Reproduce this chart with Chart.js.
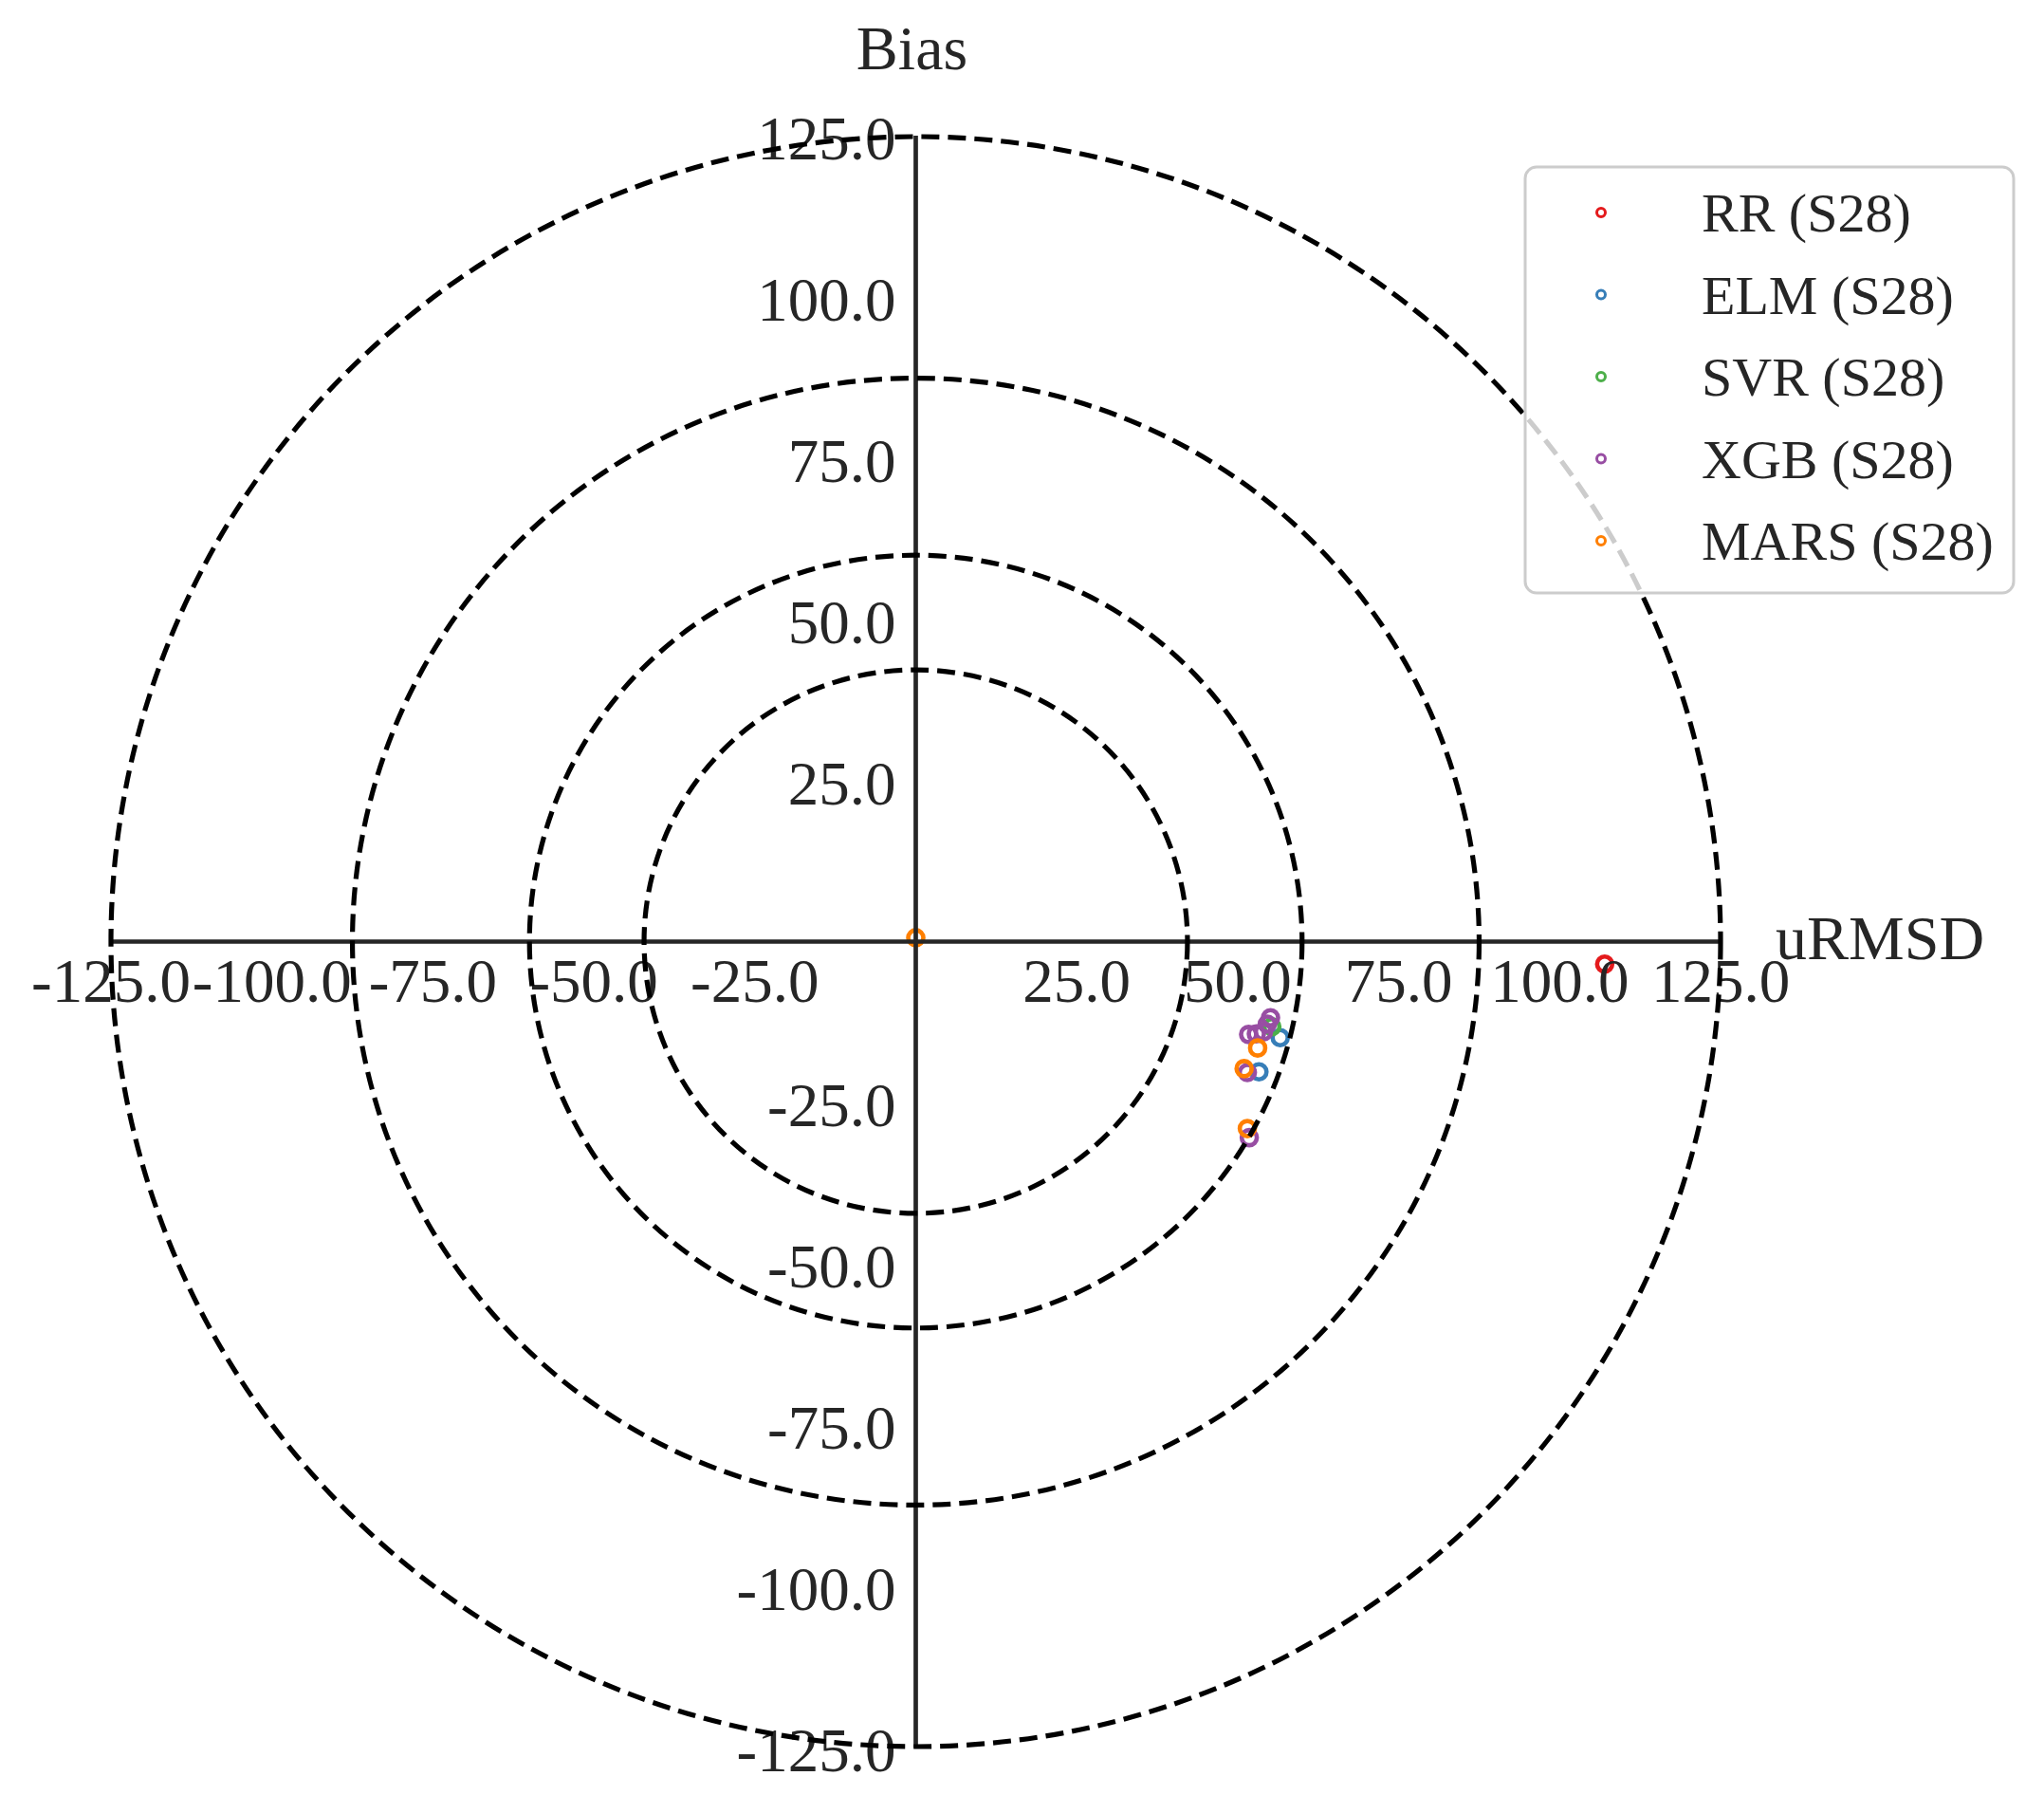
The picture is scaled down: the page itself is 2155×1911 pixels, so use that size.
<!DOCTYPE html>
<html>
<head>
<meta charset="utf-8">
<script src="https://cdn.jsdelivr.net/npm/chart.js@4/dist/chart.umd.min.js"></script>
<style>
html,body{margin:0;padding:0;background:#fff;}
canvas{display:block;}
</style>
</head>
<body>
<canvas id="c" width="2155" height="1911"></canvas>
<script>
// ---- data ----
const categories = ['RR (S28)', 'ELM (S28)', 'SVR (S28)', 'XGB (S28)', 'MARS (S28)'];
const colors = ['#e41a1c', '#377eb8', '#4daf4a', '#984ea3', '#ff7f00'];
const rrX = [107.0];              const rrY = [-3.5];
const elmX = [56.6, 53.3];        const elmY = [-14.9, -20.2];
const svrX = [55.3];              const svrY = [-13.2];
const xgbX = [55.1, 54.6, 51.7, 52.9, 54.0, 51.5, 51.8];
const xgbY = [-11.8, -12.8, -14.4, -14.3, -14.0, -20.3, -30.4];
const marsX = [0.0, 53.1, 51.0, 51.5];
const marsY = [0.6, -16.5, -19.7, -29.0];
const circleRadii = [42.2, 60.0, 87.5, 125.0];
const tickValues = [-125, -100, -75, -50, -25, 25, 50, 75, 100, 125];
const tickLabels = tickValues.map(v => v.toFixed(1));
const xTitle = 'uRMSD';
const yTitle = 'Bias';

const seriesX = [rrX, elmX, svrX, xgbX, marsX];
const seriesY = [rrY, elmY, svrY, xgbY, marsY];

const datasets = categories.map((name, i) => ({
  label: name,
  data: seriesX[i].map((x, j) => ({x: x, y: seriesY[i][j]})),
  borderColor: colors[i],
  backgroundColor: 'rgba(0,0,0,0)',
  pointRadius: 8,
  pointBorderWidth: 4.6,
  pointHoverRadius: 8,
  order: categories.length - i
}));

const TEXT = '#262626';
const FONT = '"Liberation Serif", "Times New Roman", serif';

const targetPlugin = {
  id: 'target',
  beforeDraw(chart) {
    const ctx = chart.ctx;
    ctx.save();
    ctx.fillStyle = '#ffffff';
    ctx.fillRect(0, 0, chart.width, chart.height);
    ctx.restore();
  },
  afterDatasetsDraw(chart) {
    const ctx = chart.ctx;
    const xs = chart.scales.x, ys = chart.scales.y;
    const cx = xs.getPixelForValue(0), cy = ys.getPixelForValue(0);
    ctx.save();
    // tick labels
    ctx.fillStyle = TEXT;
    ctx.font = '65px ' + FONT;
    ctx.textBaseline = 'alphabetic';
    ctx.textAlign = 'center';
    tickValues.forEach((v, i) => {
      ctx.fillText(tickLabels[i], xs.getPixelForValue(v), cy + 63);
    });
    ctx.textAlign = 'right';
    tickValues.forEach((v, i) => {
      ctx.fillText(tickLabels[i], cx - 21, ys.getPixelForValue(v) + 25);
    });
    // axis titles
    ctx.font = '66px ' + FONT;
    ctx.textAlign = 'center';
    ctx.fillText(yTitle, cx - 4, ys.top - 70);
    ctx.textAlign = 'left';
    ctx.fillText(xTitle, xs.right + 58, cy + 18);
    // axis lines
    ctx.strokeStyle = TEXT;
    ctx.lineWidth = 4.7;
    ctx.setLineDash([]);
    ctx.beginPath();
    ctx.moveTo(xs.getPixelForValue(-125), cy);
    ctx.lineTo(xs.getPixelForValue(125), cy);
    ctx.moveTo(cx, ys.getPixelForValue(125));
    ctx.lineTo(cx, ys.getPixelForValue(-125));
    ctx.stroke();
    // dashed circles
    ctx.strokeStyle = '#000000';
    ctx.lineWidth = 5.2;
    ctx.setLineDash([19, 9]);
    circleRadii.forEach(r => {
      const rp = xs.getPixelForValue(r) - cx;
      ctx.beginPath();
      ctx.arc(cx, cy, rp, 0, Math.PI * 2);
      ctx.stroke();
    });
    ctx.setLineDash([]);
    // legend
    const lx = 1608, ly = 176, lw = 515, lh = 449, rad = 12;
    ctx.beginPath();
    ctx.moveTo(lx + rad, ly);
    ctx.arcTo(lx + lw, ly, lx + lw, ly + lh, rad);
    ctx.arcTo(lx + lw, ly + lh, lx, ly + lh, rad);
    ctx.arcTo(lx, ly + lh, lx, ly, rad);
    ctx.arcTo(lx, ly, lx + lw, ly, rad);
    ctx.closePath();
    ctx.fillStyle = 'rgba(255,255,255,0.8)';
    ctx.fill();
    ctx.strokeStyle = '#cccccc';
    ctx.lineWidth = 3;
    ctx.stroke();
    ctx.font = '58px ' + FONT;
    ctx.textAlign = 'left';
    categories.forEach((name, i) => {
      const y = 224 + i * 86.5;
      ctx.beginPath();
      ctx.arc(1688, y, 4.5, 0, Math.PI * 2);
      ctx.strokeStyle = colors[i];
      ctx.lineWidth = 3;
      ctx.stroke();
      ctx.fillStyle = TEXT;
      ctx.fillText(name, 1794, y + 20);
    });
    ctx.restore();
  }
};

new Chart(document.getElementById('c'), {
  type: 'scatter',
  data: { datasets: datasets },
  options: {
    responsive: false,
    devicePixelRatio: 1,
    animation: false,
    layout: { padding: { left: 117, right: 341, top: 143, bottom: 69 } },
    scales: {
      x: { type: 'linear', min: -125, max: 125, display: false },
      y: { type: 'linear', min: -125, max: 125, display: false }
    },
    plugins: { legend: { display: false }, tooltip: { enabled: false } }
  },
  plugins: [targetPlugin]
});
</script>
</body>
</html>
